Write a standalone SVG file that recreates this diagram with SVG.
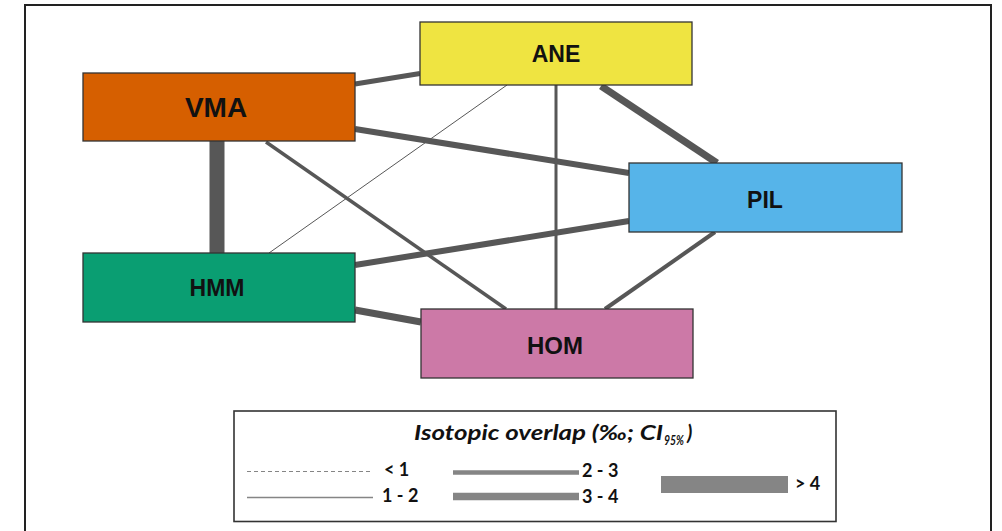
<svg xmlns="http://www.w3.org/2000/svg" width="1002" height="531" viewBox="0 0 1002 531">
<style>
.node rect{stroke:#333;stroke-width:1.3}
.lbl{font-family:"Liberation Sans",Arial,sans-serif;font-weight:bold;fill:#111;text-anchor:middle}
.edge{stroke:#575757;stroke-linecap:butt;fill:none}
.lg{font-family:Lato,"Open Sans",sans-serif;font-weight:bold;fill:#111;font-size:18px}
.lgt{font-family:Lato,"Open Sans",sans-serif;font-weight:bold;font-style:italic;fill:#111}
.lgline{stroke:#858585;fill:none}
</style>
<rect x="0" y="0" width="1002" height="531" fill="#fff"/>
<g id="frame" fill="none" stroke="#222" stroke-width="2">
<polyline points="25,531 25,5 991,5 991,531"/>
</g>
<g id="connectors">
<line class="edge" x1="355" y1="84" x2="420" y2="73.5" stroke-width="5"/>
<line class="edge" x1="355" y1="129" x2="629" y2="173" stroke-width="6"/>
<line class="edge" x1="217" y1="141" x2="217" y2="253" stroke-width="15"/>
<line class="edge" x1="266" y1="142" x2="506" y2="309" stroke-width="3.5"/>
<line class="edge" x1="507" y1="85" x2="269" y2="253" stroke-width="1"/>
<line class="edge" x1="556" y1="85" x2="556" y2="309" stroke-width="3"/>
<line class="edge" x1="601" y1="86" x2="717" y2="163" stroke-width="7"/>
<line class="edge" x1="355" y1="265" x2="629" y2="221" stroke-width="6"/>
<line class="edge" x1="715" y1="232" x2="605" y2="309" stroke-width="4"/>
<line class="edge" x1="355" y1="310" x2="421" y2="322" stroke-width="7"/>
</g>
<g id="ANE" class="node">
<rect x="420" y="22" width="272" height="63" fill="#EFE441"/>
<text class="lbl" x="556" y="62" font-size="23">ANE</text>
</g>
<g id="VMA" class="node">
<rect x="83" y="73" width="272" height="68" fill="#D65F00"/>
<text class="lbl" x="216" y="117" font-size="28">VMA</text>
</g>
<g id="PIL" class="node">
<rect x="629" y="163" width="273" height="69" fill="#56B4E9"/>
<text class="lbl" x="765" y="207.5" font-size="23">PIL</text>
</g>
<g id="HMM" class="node">
<rect x="83" y="253" width="272" height="69" fill="#0A9E72"/>
<text class="lbl" x="217" y="296" font-size="23">HMM</text>
</g>
<g id="HOM" class="node">
<rect x="421" y="309" width="272" height="69" fill="#CC79A7"/>
<text class="lbl" x="555" y="353.5" font-size="24">HOM</text>
</g>
<g id="legend">
<rect x="234" y="411" width="602" height="110.5" fill="#fff" stroke="#333" stroke-width="1.6"/>
<text class="lgt" x="414" y="440" font-size="20"><tspan textLength="249" lengthAdjust="spacingAndGlyphs">Isotopic overlap (‰; CI</tspan><tspan x="664" dy="5" font-size="13" textLength="20" lengthAdjust="spacingAndGlyphs">95%</tspan><tspan x="687" dy="-5">)</tspan></text>
<line class="lgline" x1="247" y1="471.5" x2="373" y2="471.5" stroke-width="1" stroke-dasharray="4 3"/>
<text class="lg" x="384" y="476">&lt; 1</text>
<line class="lgline" x1="247" y1="497.5" x2="373" y2="497.5" stroke-width="1.5"/>
<text class="lg" x="382" y="502">1 - 2</text>
<line class="lgline" x1="453" y1="472.5" x2="579" y2="472.5" stroke-width="4.5"/>
<text class="lg" x="582" y="477">2 - 3</text>
<line class="lgline" x1="453" y1="496.5" x2="579" y2="496.5" stroke-width="7.5"/>
<text class="lg" x="582" y="503">3 - 4</text>
<rect x="661" y="476" width="127" height="17" fill="#858585"/>
<text class="lg" x="795" y="490">&gt; 4</text>
</g>
</svg>
